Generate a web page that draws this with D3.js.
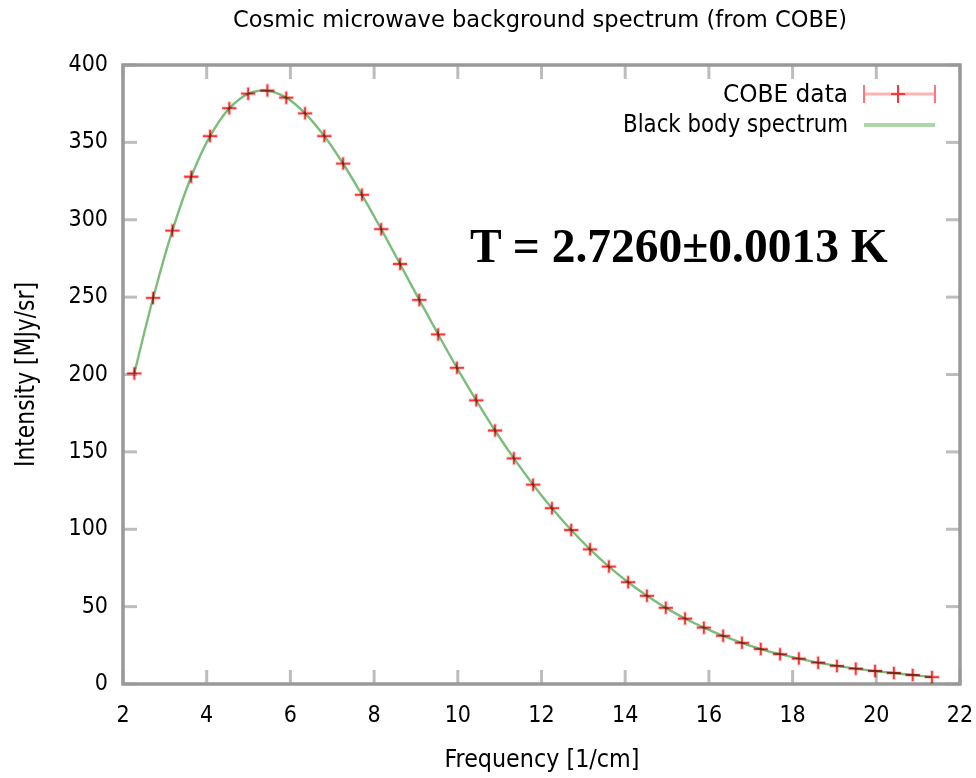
<!DOCTYPE html>
<html>
<head>
<meta charset="utf-8">
<script src="https://cdn.jsdelivr.net/npm/d3@7"></script>
<style>
  body { margin: 0; background: #fff; }
  svg { display: block; }
  text { font-family: "DejaVu Sans Condensed", "DejaVu Sans", sans-serif; fill: #000; }
</style>
</head>
<body>
<svg id="chart"></svg>
<script>
// COBE FIRAS monopole spectrum
const freq = [2.27, 2.72, 3.18, 3.63, 4.08, 4.54, 4.99, 5.45, 5.90, 6.35, 6.81, 7.26, 7.71,
  8.17, 8.62, 9.08, 9.53, 9.98, 10.44, 10.89, 11.34, 11.80, 12.25, 12.71, 13.16, 13.61,
  14.07, 14.52, 14.97, 15.43, 15.88, 16.34, 16.79, 17.24, 17.70, 18.15, 18.61, 19.06,
  19.51, 19.97, 20.42, 20.87, 21.33];
const intensity = [200.7, 249.5, 293.0, 327.8, 354.1, 372.1, 381.5, 383.5, 378.9, 368.8,
  354.1, 336.3, 316.1, 293.9, 271.4, 248.2, 225.9, 204.3, 183.3, 163.8, 145.8, 128.8,
  113.6, 99.5, 87.0, 75.9, 65.8, 57.0, 49.2, 42.3, 36.4, 31.1, 26.6, 22.6, 19.3, 16.4,
  13.8, 11.7, 9.9, 8.4, 7.1, 5.8, 4.5];
// black body curve (drawn through the same frequencies)
const bbIntensity = [200.6, 249.4, 293.0, 327.8, 354.0, 372.0, 381.4, 383.4, 378.9, 368.8,
  354.1, 336.2, 316.1, 293.9, 271.4, 248.2, 226.0, 204.3, 183.3, 163.8, 145.8, 128.8,
  113.6, 99.5, 87.0, 75.9, 65.8, 57.0, 49.2, 42.3, 36.4, 31.1, 26.6, 22.6, 19.3, 16.4,
  13.8, 11.7, 9.9, 8.4, 7.1, 5.8, 4.5];
const xTicks = [2, 4, 6, 8, 10, 12, 14, 16, 18, 20, 22];
const yTicks = [0, 50, 100, 150, 200, 250, 300, 350, 400];

const W = 976, H = 778;
const margin = { top: 65, right: 16, bottom: 94, left: 123 };
const svg = d3.select('#chart').attr('width', W).attr('height', H);

const x = d3.scaleLinear().domain([2, 22]).range([margin.left, W - margin.right]);
const y = d3.scaleLinear().domain([0, 400]).range([H - margin.bottom, margin.top]);

const tickColor = '#bdbdbd';
const tickLen = 14;

// ticks on all four sides, pointing inward
const g = svg.append('g');
xTicks.forEach(t => {
  g.append('line').attr('x1', x(t)).attr('x2', x(t))
    .attr('y1', y(0)).attr('y2', y(0) - tickLen)
    .attr('stroke', tickColor).attr('stroke-width', 3);
  g.append('line').attr('x1', x(t)).attr('x2', x(t))
    .attr('y1', y(400)).attr('y2', y(400) + tickLen)
    .attr('stroke', tickColor).attr('stroke-width', 3);
});
yTicks.forEach(t => {
  g.append('line').attr('x1', x(2)).attr('x2', x(2) + tickLen)
    .attr('y1', y(t)).attr('y2', y(t))
    .attr('stroke', tickColor).attr('stroke-width', 3);
  g.append('line').attr('x1', x(22)).attr('x2', x(22) - tickLen)
    .attr('y1', y(t)).attr('y2', y(t))
    .attr('stroke', tickColor).attr('stroke-width', 3);
});

// border
svg.append('rect')
  .attr('x', x(2)).attr('y', y(400))
  .attr('width', x(22) - x(2)).attr('height', y(0) - y(400))
  .attr('fill', 'none').attr('stroke', '#999').attr('stroke-width', 3.5);

// tick labels
svg.append('g').selectAll('text').data(xTicks).join('text')
  .attr('x', d => x(d)).attr('y', y(0) + 38)
  .attr('text-anchor', 'middle').attr('font-size', 23)
  .text(d => d);
svg.append('g').selectAll('text').data(yTicks).join('text')
  .attr('x', x(2) - 15).attr('y', d => y(d) + 6)
  .attr('text-anchor', 'end').attr('font-size', 23)
  .text(d => d);

// black body line
const line = d3.line()
  .x((d, i) => x(freq[i]))
  .y(d => y(d))
  .curve(d3.curveCatmullRom);
svg.append('path')
  .datum(bbIntensity)
  .attr('d', line)
  .attr('fill', 'none')
  .attr('stroke', '#7cbd7c')
  .attr('stroke-width', 2.4);

// COBE data crosses
const cross = (cx, cy, hw, hh) => `M${cx - hw},${cy}H${cx + hw}M${cx},${cy - hh}V${cy + hh}`;
const pts = svg.append('g').style('mix-blend-mode', 'multiply');
pts.selectAll('path.halo').data(intensity).join('path')
  .attr('class', 'halo')
  .attr('d', (d, i) => cross(x(freq[i]), y(d), 7.5, 7))
  .attr('stroke', '#ffc4c4').attr('stroke-width', 3.5).attr('fill', 'none');
pts.selectAll('path.core').data(intensity).join('path')
  .attr('class', 'core')
  .attr('d', (d, i) => cross(x(freq[i]), y(d), 7, 6))
  .attr('stroke', '#ff3434').attr('stroke-width', 1.8).attr('fill', 'none');

// legend
const lg = svg.append('g');
lg.append('text').attr('x', 848).attr('y', 102).attr('text-anchor', 'end')
  .attr('font-size', 24).attr('textLength', 125).attr('lengthAdjust', 'spacingAndGlyphs')
  .text('COBE data');
lg.append('line').attr('x1', 864).attr('x2', 935).attr('y1', 94).attr('y2', 94)
  .attr('stroke', '#ffb3b3').attr('stroke-width', 3);
[864, 935].forEach(px => lg.append('line')
  .attr('x1', px).attr('x2', px).attr('y1', 85).attr('y2', 103)
  .attr('stroke', '#ff7878').attr('stroke-width', 2));
lg.append('path').attr('d', cross(898, 94, 7, 9))
  .attr('stroke', '#ff3434').attr('stroke-width', 2).attr('fill', 'none');

lg.append('text').attr('x', 848).attr('y', 132).attr('text-anchor', 'end')
  .attr('font-size', 24).attr('textLength', 225).attr('lengthAdjust', 'spacingAndGlyphs')
  .text('Black body spectrum');
lg.append('line').attr('x1', 864).attr('x2', 935).attr('y1', 125).attr('y2', 125)
  .attr('stroke', '#aad8aa').attr('stroke-width', 4);

// title and axis labels
svg.append('text').attr('x', 540).attr('y', 27).attr('text-anchor', 'middle')
  .attr('font-size', 23).attr('textLength', 614).attr('lengthAdjust', 'spacingAndGlyphs')
  .text('Cosmic microwave background spectrum (from COBE)');
svg.append('text').attr('x', 542).attr('y', 767).attr('text-anchor', 'middle')
  .attr('font-size', 25).attr('textLength', 195).attr('lengthAdjust', 'spacingAndGlyphs')
  .text('Frequency [1/cm]');
svg.append('text')
  .attr('transform', `translate(34,${(y(0) + y(400)) / 2}) rotate(-90)`)
  .attr('text-anchor', 'middle')
  .attr('font-size', 26).attr('textLength', 185).attr('lengthAdjust', 'spacingAndGlyphs')
  .text('Intensity [MJy/sr]');

// temperature annotation
svg.append('text').attr('x', 470).attr('y', 262)
  .style('font-family', '"Liberation Serif", "Times New Roman", serif')
  .attr('font-weight', 'bold').attr('font-size', 47.5)
  .text('T = 2.7260±0.0013 K');
</script>
</body>
</html>
